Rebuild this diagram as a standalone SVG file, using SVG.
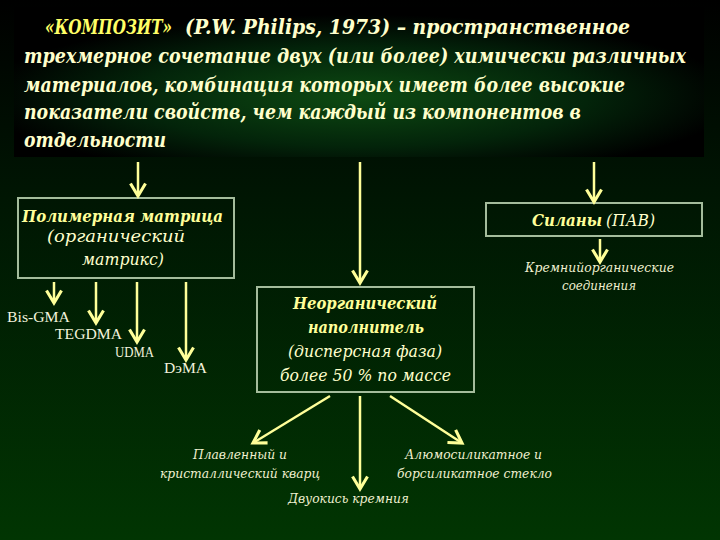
<svg xmlns="http://www.w3.org/2000/svg" width="720" height="540" viewBox="0 0 720 540">
<defs>
<linearGradient id="bg" x1="0" y1="0" x2="0" y2="1">
<stop offset="0" stop-color="#000000"/>
<stop offset="0.35" stop-color="#001503"/>
<stop offset="1" stop-color="#013502"/>
</linearGradient>
<radialGradient id="glow" cx="0.5" cy="0.6" r="0.55">
<stop offset="0" stop-color="#0d4a12"/>
<stop offset="0.6" stop-color="#03240a"/>
<stop offset="1" stop-color="#000000"/>
</radialGradient>
<marker id="ah" markerUnits="userSpaceOnUse" markerWidth="20" markerHeight="20" viewBox="-12 -8 14 16" refX="0" refY="0" orient="auto">
<path d="M-10,-6 L0,0 L-10,6" fill="none" stroke="#ffff99" stroke-width="2.5" stroke-linejoin="miter"/>
</marker>
</defs>
<style>
.t{font-family:"DejaVu Serif","Liberation Serif",serif;font-style:italic;font-weight:bold;font-size:17px;fill:#ffffcc}
.y{fill:#ffff66}
.box{fill:none;stroke:#a4bc9c;stroke-width:2}
.bt{font-family:"DejaVu Serif","Liberation Serif",serif;font-style:italic;font-weight:bold;font-size:16px;fill:#ffff99}
.it{font-family:"DejaVu Serif","Liberation Serif",serif;font-style:italic;font-size:16px;fill:#ffffcc}
.lb{font-family:"Liberation Serif","Times New Roman",serif;font-size:15px;fill:#f2f2dc}
.sl{font-family:"DejaVu Serif","Liberation Serif",serif;font-style:italic;font-size:13px;fill:#f0f0d0}
.c{fill:none;stroke:#ffff99;stroke-width:2.5;marker-end:url(#ah)}
</style>
<rect x="0" y="0" width="720" height="540" fill="url(#bg)"/>
<g id="title">
<rect x="14" y="7" width="690" height="150" fill="url(#glow)"/>
<text class="t y" transform="translate(45,34) scale(1,1.25)" textLength="127" lengthAdjust="spacingAndGlyphs">«КОМПОЗИТ»</text>
<text class="t" transform="translate(185,34) scale(1,1.25)" textLength="445" lengthAdjust="spacingAndGlyphs">(P.W. Philips, 1973) – пространственное</text>
<text class="t" transform="translate(24,63) scale(1,1.25)" textLength="662" lengthAdjust="spacingAndGlyphs">трехмерное сочетание двух (или более) химически различных</text>
<text class="t" transform="translate(24,92) scale(1,1.25)" textLength="601" lengthAdjust="spacingAndGlyphs">материалов, комбинация которых имеет более высокие</text>
<text class="t" transform="translate(24,119) scale(1,1.25)" textLength="557" lengthAdjust="spacingAndGlyphs">показатели свойств, чем каждый из компонентов в</text>
<text class="t" transform="translate(24,147) scale(1,1.25)" textLength="142" lengthAdjust="spacingAndGlyphs">отдельности</text>
</g>
<g id="matrix">
<rect class="box" x="18" y="198" width="216" height="80"/>
<text class="bt" x="22" y="222" textLength="201" lengthAdjust="spacingAndGlyphs">Полимерная матрица</text>
<text class="it" x="47" y="242" textLength="138" lengthAdjust="spacingAndGlyphs">(органический</text>
<text class="it" x="82" y="265" textLength="82" lengthAdjust="spacingAndGlyphs">матрикс)</text>
</g>
<g id="filler">
<rect class="box" x="257" y="287" width="217" height="105"/>
<text class="bt" x="293" y="309" textLength="144" lengthAdjust="spacingAndGlyphs">Неорганический</text>
<text class="bt" x="308" y="333" textLength="116" lengthAdjust="spacingAndGlyphs">наполнитель</text>
<text class="it" x="288" y="357" textLength="154" lengthAdjust="spacingAndGlyphs">(дисперсная фаза)</text>
<text class="it" x="280" y="381" textLength="171" lengthAdjust="spacingAndGlyphs">более 50 % по массе</text>
</g>
<g id="silanes">
<rect class="box" x="486" y="203" width="216" height="33"/>
<text class="bt" x="532" y="226" textLength="70" lengthAdjust="spacingAndGlyphs">Силаны</text>
<text class="it" x="606" y="226" textLength="49" lengthAdjust="spacingAndGlyphs">(ПАВ)</text>
</g>
<g id="labels">
<text class="lb" x="7" y="322" textLength="63" lengthAdjust="spacingAndGlyphs">Bis-GMA</text>
<text class="lb" x="55" y="339" textLength="67" lengthAdjust="spacingAndGlyphs">TEGDMA</text>
<text class="lb" x="115" y="357" textLength="39" lengthAdjust="spacingAndGlyphs">UDMA</text>
<text class="lb" x="164" y="373" textLength="43" lengthAdjust="spacingAndGlyphs">DэMA</text>
<text class="sl" x="525" y="272" textLength="149" lengthAdjust="spacingAndGlyphs">Кремнийорганические</text>
<text class="sl" x="562" y="290" textLength="74" lengthAdjust="spacingAndGlyphs">соединения</text>
<text class="sl" x="193" y="459" textLength="94" lengthAdjust="spacingAndGlyphs">Плавленный и</text>
<text class="sl" x="160" y="478" textLength="160" lengthAdjust="spacingAndGlyphs">кристаллический кварц</text>
<text class="sl" x="288" y="503" textLength="121" lengthAdjust="spacingAndGlyphs">Двуокись кремния</text>
<text class="sl" x="405" y="459" textLength="137" lengthAdjust="spacingAndGlyphs">Алюмосиликатное и</text>
<text class="sl" x="397" y="478" textLength="155" lengthAdjust="spacingAndGlyphs">борсиликатное стекло</text>
</g>
<g id="connectors">
<line class="c" x1="138" y1="162" x2="138" y2="196"/>
<line class="c" x1="360" y1="162" x2="360" y2="283"/>
<line class="c" x1="594" y1="162" x2="594" y2="202"/>
<line class="c" x1="54" y1="282" x2="54" y2="303"/>
<line class="c" x1="96" y1="282" x2="96" y2="323"/>
<line class="c" x1="137" y1="282" x2="137" y2="342"/>
<line class="c" x1="186" y1="282" x2="186" y2="360"/>
<line class="c" x1="600" y1="239" x2="600" y2="262"/>
<line class="c" x1="330" y1="396" x2="253" y2="443"/>
<line class="c" x1="360" y1="396" x2="360" y2="489"/>
<line class="c" x1="390" y1="396" x2="462" y2="443"/>
</g>
</svg>
